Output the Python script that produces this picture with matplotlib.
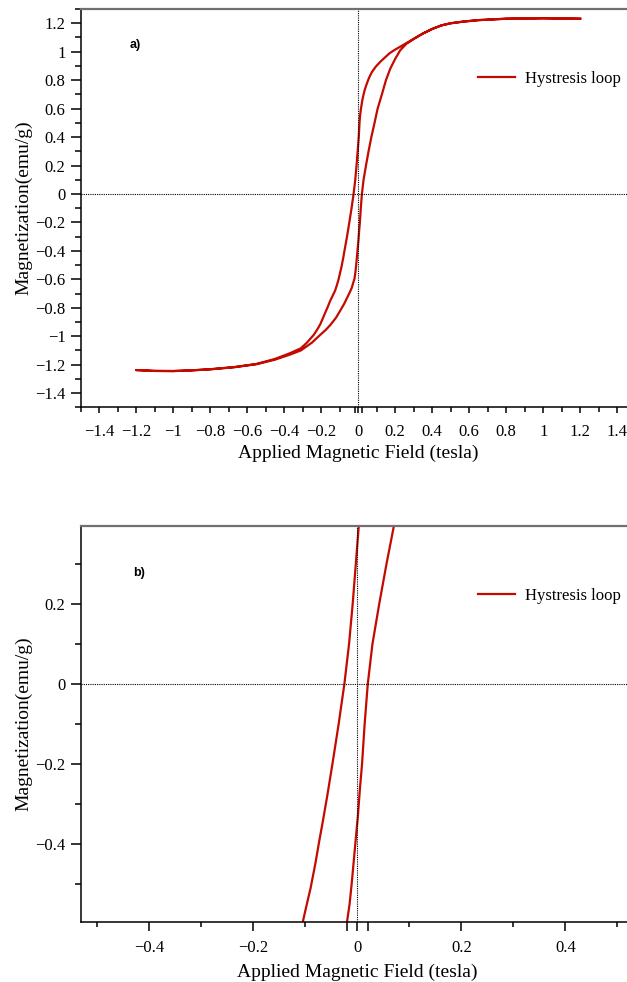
import matplotlib
matplotlib.use("Agg")
import matplotlib.pyplot as plt
import numpy as np

plt.rcParams['font.family'] = ['Liberation Serif', 'DejaVu Serif']

# descending branch (from +1.2 T down to -1.2 T)
field_down = [1.20, 1.00, 0.80, 0.65, 0.57, 0.50, 0.45, 0.40, 0.35, 0.30, 0.24, 0.20,
              0.17, 0.12, 0.095, 0.074, 0.058, 0.045, 0.036, 0.029, 0.021, 0.015,
              0.010, 0.007, 0.003, -0.003, -0.009, -0.016, -0.025, -0.036, -0.048,
              -0.058, -0.066, -0.073, -0.081, -0.090, -0.099, -0.106, -0.115,
              -0.125, -0.138, -0.151, -0.165, -0.180, -0.205, -0.220, -0.240,
              -0.260, -0.277, -0.31, -0.37, -0.45, -0.55, -0.67, -0.80, -0.90,
              -1.00, -1.10, -1.20]
mag_down = [1.232, 1.235, 1.232, 1.222, 1.212, 1.200, 1.185, 1.160, 1.128, 1.090,
            1.045, 1.015, 0.990, 0.930, 0.895, 0.857, 0.815, 0.77, 0.735, 0.70,
            0.65, 0.60, 0.55, 0.50, 0.40, 0.30, 0.20, 0.10, 0.00, -0.10, -0.20,
            -0.28, -0.34, -0.39, -0.45, -0.51, -0.56, -0.60, -0.64, -0.68, -0.715,
            -0.75, -0.795, -0.84, -0.916, -0.95, -0.99, -1.02, -1.045, -1.085,
            -1.12, -1.16, -1.195, -1.217, -1.232, -1.240, -1.245, -1.244, -1.238]

# ascending branch (from -1.2 T up to +1.2 T)
field_up = [-1.20, -1.10, -1.00, -0.90, -0.80, -0.67, -0.55, -0.45, -0.37, -0.31,
            -0.25, -0.205, -0.175, -0.15, -0.12, -0.097, -0.075, -0.06, -0.045,
            -0.035, -0.027, -0.020, -0.015, -0.011, -0.004, 0.001, 0.005, 0.009,
            0.014, 0.020, 0.029, 0.042, 0.056, 0.071, 0.085, 0.095, 0.105, 0.128,
            0.150, 0.173, 0.20, 0.227, 0.26, 0.30, 0.35, 0.40, 0.45, 0.50, 0.57,
            0.65, 0.80, 1.00, 1.20]
mag_up = [-1.238, -1.244, -1.245, -1.240, -1.233, -1.218, -1.197, -1.165, -1.13,
          -1.10, -1.045, -0.99, -0.955, -0.92, -0.87, -0.82, -0.77, -0.73, -0.69,
          -0.66, -0.625, -0.595, -0.55, -0.50, -0.40, -0.33, -0.26, -0.20, -0.10,
          0.00, 0.10, 0.20, 0.30, 0.40, 0.48, 0.54, 0.60, 0.70, 0.80, 0.88, 0.95,
          1.01, 1.055, 1.09, 1.128, 1.16, 1.185, 1.20, 1.212, 1.222, 1.232, 1.235,
          1.232]

xticks_a = [-1.4, -1.2, -1.0, -0.8, -0.6, -0.4, -0.2, 0.0, 0.2, 0.4, 0.6, 0.8, 1.0, 1.2, 1.4]
yticks_a = [-1.4, -1.2, -1.0, -0.8, -0.6, -0.4, -0.2, 0.0, 0.2, 0.4, 0.6, 0.8, 1.0, 1.2]
xticks_b = [-0.4, -0.2, 0.0, 0.2, 0.4]
yticks_b = [-0.4, -0.2, 0.0, 0.2]
coercive_ticks = [-0.02, 0.02]

red = '#c40a00'

field = field_down + field_up
mag = mag_down + mag_up


def fmt(v):
    s = f"{v:g}"
    return s.replace('-', '\u2212')


fig = plt.figure(figsize=(6.27, 9.82), dpi=100)
ax1 = fig.add_axes([0.1287, 0.5852, 0.8852, 0.4056])
ax2 = fig.add_axes([0.1287, 0.0608, 0.8825, 0.4036])

panels = [
    (ax1, (-1.5, 1.5), (-1.5, 1.3), xticks_a, yticks_a, 'a)', (0.0888, 0.9096), 0.9196, 4.0, 8.0),
    (ax2, (-0.532, 0.532), (-0.595, 0.395), xticks_b, yticks_b, 'b)', (0.0945, 0.8814), 0.3931, 6.5, 6.3),
]

for ax, xl, yl, xt, yt, tag, tagpos, leg_y, xmaj, xpad in panels:
    ax.plot(field, mag, color=red, lw=1.6, label='Hystresis loop')
    ax.axhline(0, color='black', lw=0.8, ls=(0, (1, 1)))
    ax.axvline(0, color='black', lw=0.8, ls=(0, (1, 1)))
    ax.set_xlim(*xl)
    ax.set_ylim(*yl)

    ax.set_xticks(xt + coercive_ticks, [fmt(v) for v in xt] + ['', ''])
    ax.set_yticks(yt, [fmt(v) for v in yt])
    xm = np.round(np.arange(-1.5, 1.51, 0.1), 2)
    xm = [v for v in xm if abs(round(v / 0.2) * 0.2 - v) > 1e-6 and xl[0] <= v <= xl[1]]
    ym = np.round(np.arange(-1.5, 1.31, 0.1), 2)
    ym = [v for v in ym if abs(round(v / 0.2) * 0.2 - v) > 1e-6 and yl[0] <= v <= yl[1]]
    ax.set_xticks(xm, minor=True)
    ax.set_yticks(ym, minor=True)

    ax.tick_params(axis='x', which='major', direction='out', length=xmaj, width=1.1,
                   pad=xpad, labelsize=12)
    ax.tick_params(axis='x', which='minor', direction='out', length=3.3, width=1.1)
    ax.tick_params(axis='y', which='major', direction='out', length=7, width=1.1,
                   pad=4, labelsize=12)
    ax.tick_params(axis='y', which='minor', direction='out', length=4.3, width=1.1)

    ax.spines['right'].set_visible(False)
    ax.spines['top'].set_color('#707070')
    ax.spines['top'].set_linewidth(1.6)
    ax.spines['left'].set_linewidth(1.1)
    ax.spines['bottom'].set_linewidth(1.1)

    ax.set_xlabel('Applied Magnetic Field (tesla)', fontsize=14)
    ax.set_ylabel('Magnetization(emu/g)', fontsize=14)

    ax.text(tagpos[0], tagpos[1], tag, transform=ax.transAxes,
            fontsize=9, fontweight='bold', family=['Liberation Sans', 'DejaVu Sans'],
            ha='left', va='center')

    ax.legend(loc='center left', bbox_to_anchor=(478 / 627, leg_y),
              bbox_transform=fig.transFigure, frameon=False, borderpad=0,
              borderaxespad=0, handlelength=2.2, handletextpad=0.6, fontsize=12)

ax1.xaxis.set_label_coords(0.5, -0.095)
ax1.yaxis.set_label_coords(-0.0865, 0.5)
ax2.xaxis.set_label_coords(0.5, -0.1035)
ax2.yaxis.set_label_coords(-0.0865, 0.5)

fig.savefig('out.png', dpi=100)
